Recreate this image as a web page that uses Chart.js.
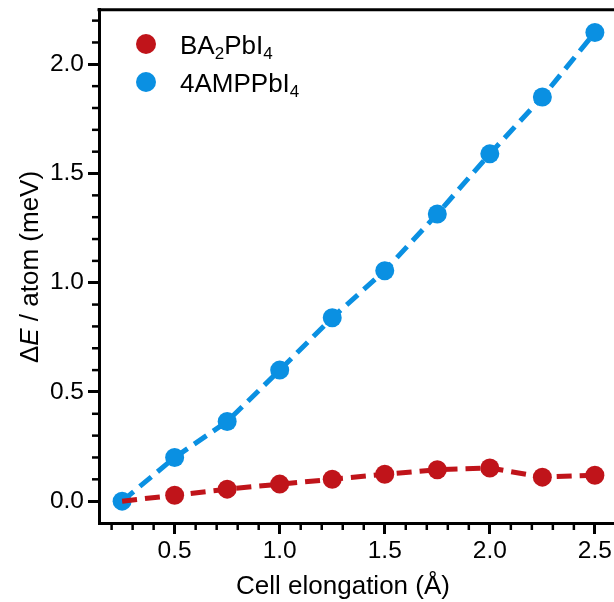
<!DOCTYPE html>
<html>
<head>
<meta charset="utf-8">
<script src="https://cdn.jsdelivr.net/npm/chart.js@4"></script>
<style>
html,body{margin:0;padding:0;background:#fff;overflow:hidden}
#wrap{width:622px;height:611px;margin-top:-9px}
</style>
</head>
<body>
<div id="wrap"><canvas id="ChartHTML"></canvas></div>
<script>
// data
const ELONG=[0.25,0.5,0.75,1.0,1.25,1.5,1.75,2.0,2.25,2.5];
const BA=[0,0.027,0.055,0.078,0.100,0.123,0.144,0.152,0.110,0.119];
const AMPP=[0,0.20,0.365,0.60,0.84,1.055,1.315,1.59,1.85,2.146];
const XTICKS=[0.5,1.0,1.5,2.0,2.5];
const YTICKS=[0.0,0.5,1.0,1.5,2.0];

const RED='#C0141A';
const BLUE='#0A90E2';
const FONT='"Liberation Sans", Arial, sans-serif';
const DY=9; // canvas is shifted up by this much

function pts(xs,ys){return xs.map((x,i)=>({x:x,y:ys[i]}))}

// minor ticks, top frame line, axis titles, legend with subscripts
const extrasPlugin={
 id:'extras',
 afterDraw(chart){
	const ctx=chart.ctx, a=chart.chartArea;
	const sx=chart.scales.x, sy=chart.scales.y;
	ctx.save();
	ctx.strokeStyle='#000';ctx.lineWidth=3;
	// top frame
	ctx.beginPath();ctx.moveTo(a.left-1.5,a.top);ctx.lineTo(a.right+2,a.top);ctx.stroke();
	// minor ticks
	ctx.lineWidth=2.5;
	for(let i=2;i<=26;i++){if(i%5==0)continue;const p=sx.getPixelForValue(i/10);ctx.beginPath();ctx.moveTo(p,a.bottom);ctx.lineTo(p,a.bottom+7);ctx.stroke();}
	for(let i=1;i<=22;i++){if(i%5==0)continue;const p=sy.getPixelForValue(i/10);ctx.beginPath();ctx.moveTo(a.left,p);ctx.lineTo(a.left-7,p);ctx.stroke();}
	// x title
	ctx.fillStyle='#000';
	ctx.font='26px '+FONT;ctx.textAlign='center';ctx.textBaseline='alphabetic';
	ctx.fillText('Cell elongation (Å)',343,594+DY);
	// y title with italic E
	ctx.translate(38,267+DY);ctx.rotate(-Math.PI/2);
	const parts=[['Δ','26px '+FONT],['E','italic 26px '+FONT],[' / atom (meV)','26px '+FONT]];
	let w=0;parts.forEach(p=>{ctx.font=p[1];w+=ctx.measureText(p[0]).width});
	let x=-w/2;ctx.textAlign='left';
	parts.forEach(p=>{ctx.font=p[1];ctx.fillText(p[0],x,0);x+=ctx.measureText(p[0]).width});
	ctx.restore();
	// legend
	ctx.save();
	const items=[[RED,[['BA',0],['2',1],['PbI',0],['4',1]],44+DY],[BLUE,[['4AMPPbI',0],['4',1]],82+DY]];
	items.forEach(it=>{
		ctx.fillStyle=it[0];ctx.beginPath();ctx.arc(146,it[2],10,0,2*Math.PI);ctx.fill();
		ctx.fillStyle='#000';ctx.textAlign='left';ctx.textBaseline='alphabetic';
		let tx=180;
		it[1].forEach(s=>{
			if(s[1]){ctx.font='17px '+FONT;ctx.fillText(s[0],tx,it[2]+15);}
			else{ctx.font='26px '+FONT;ctx.fillText(s[0],tx,it[2]+10);}
			tx+=ctx.measureText(s[0]).width;
		});
	});
	ctx.restore();
 }
};

let Chart1;
function LoadC1(){
 Chart1=new Chart(document.getElementById('ChartHTML'),{
	type:'line',
	data:{datasets:[
		{label:'BA2PbI4',data:pts(ELONG,BA),borderColor:RED,backgroundColor:RED,borderWidth:5,borderDash:[15,8],
		 pointRadius:ELONG.map((v,i)=>i==0?0:9.5),pointBorderWidth:0,pointBackgroundColor:RED,clip:false},
		{label:'4AMPPbI4',data:pts(ELONG,AMPP),borderColor:BLUE,backgroundColor:BLUE,borderWidth:5,borderDash:[15,8],
		 pointRadius:9.5,pointBorderWidth:0,pointBackgroundColor:BLUE,clip:false}
	]},
	options:{
		animation:false,responsive:true,maintainAspectRatio:false,
		layout:{autoPadding:false,padding:{top:8,right:4,left:0,bottom:0}},
		plugins:{legend:{display:false},tooltip:{enabled:false}},
		scales:{
			x:{type:'linear',min:0.14,max:2.61,
				afterBuildTicks:s=>{s.ticks=XTICKS.map(v=>({value:v}))},
				afterFit:s=>{s.height=79},
				grid:{drawOnChartArea:false,drawTicks:true,tickLength:11,lineWidth:3,color:'#000'},
				border:{display:true,width:3,color:'#000'},
				ticks:{color:'#000',font:{family:FONT,size:24.5},padding:3,maxRotation:0,callback:v=>v.toFixed(1)}},
			y:{type:'linear',min:-0.1,max:2.25,
				afterBuildTicks:s=>{s.ticks=YTICKS.map(v=>({value:v}))},
				afterFit:s=>{s.width=99},
				grid:{drawOnChartArea:false,drawTicks:true,tickLength:11,lineWidth:3,color:'#000'},
				border:{display:true,width:3,color:'#000'},
				ticks:{color:'#000',font:{family:FONT,size:24.5},padding:4,callback:v=>v.toFixed(1)}}
		}
	},
	plugins:[extrasPlugin]
 });
}
LoadC1();
</script>
</body>
</html>
